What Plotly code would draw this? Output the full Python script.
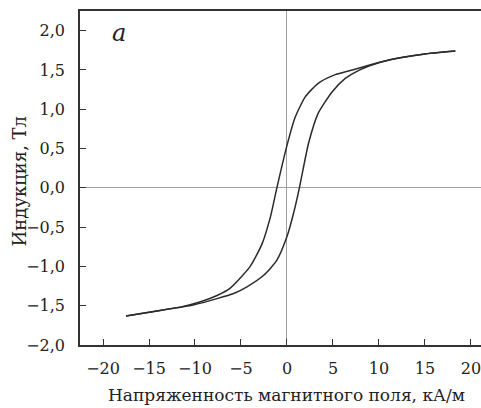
import plotly.graph_objects as go

# Ascending branch (from negative saturation to positive saturation)
h_up = [-17.5, -13.8, -10.2, -7.6, -5.8, -4.35, -2.5, -1.1, 0.0, 0.7, 1.35, 2.35, 3.4, 4.9, 6.3, 7.4, 8.9, 11.2, 14.8, 18.3]
b_up = [-1.63, -1.56, -1.49, -1.41, -1.345, -1.26, -1.11, -0.92, -0.62, -0.33, 0.0, 0.57, 0.95, 1.22, 1.39, 1.47, 1.55, 1.63, 1.70, 1.74]

# Descending branch (from positive saturation back to negative saturation)
h_down = [18.3, 14.8, 11.2, 8.9, 7.4, 5.25, 3.4, 2.0, 0.9, 0.0, -1.1, -1.8, -2.7, -4.0, -6.2, -7.6, -9.4, -11.5, -13.8, -17.5]
b_down = [1.74, 1.70, 1.63, 1.56, 1.51, 1.44, 1.33, 1.16, 0.90, 0.54, 0.0, -0.37, -0.71, -1.0, -1.28, -1.37, -1.45, -1.515, -1.56, -1.63]

x_ticks = [-20, -15, -10, -5, 0, 5, 10, 15, 20]
y_ticks = [-2.0, -1.5, -1.0, -0.5, 0.0, 0.5, 1.0, 1.5, 2.0]

x_title = "Напряженность магнитного поля, кА/м"
y_title = "Индукция, Тл"
panel_label = "a"

FONT = "DejaVu Serif"
TXT = "#222"
LINE = "#2b2b2b"

fig = go.Figure()
fig.add_trace(go.Scatter(x=h_up, y=b_up, mode="lines",
                         line=dict(color=LINE, width=1.5, shape="spline", smoothing=0.6),
                         showlegend=False, hoverinfo="skip"))
fig.add_trace(go.Scatter(x=h_down, y=b_down, mode="lines",
                         line=dict(color=LINE, width=1.5, shape="spline", smoothing=0.6),
                         showlegend=False, hoverinfo="skip"))

fig.update_layout(
    width=481, height=408,
    margin=dict(l=80, r=0, t=11, b=63),
    paper_bgcolor="white", plot_bgcolor="white",
    separators=", ",
    font=dict(family=FONT, size=16, color=TXT),
    xaxis=dict(range=[-22.5, 21.09], tickvals=x_ticks, ticks="inside", ticklen=6,
               tickcolor="#333", tickwidth=1.2, automargin=False,
               ticklabeloverflow="allow",
               showline=True, linecolor="#333", linewidth=1.5, mirror=True,
               showgrid=False, zeroline=True, zerolinecolor="#a0a0a0", zerolinewidth=1,
               tickfont=dict(family=FONT, size=16, color=TXT),
               ticklabelstandoff=8),
    yaxis=dict(range=[-2.0, 2.25], tickvals=y_ticks, tickformat=".1f", ticks="inside", ticklen=6,
               tickcolor="#333", tickwidth=1.2, automargin=False,
               ticklabeloverflow="allow",
               showline=True, linecolor="#333", linewidth=1.5, mirror=False,
               showgrid=False, zeroline=True, zerolinecolor="#a0a0a0", zerolinewidth=1,
               tickfont=dict(family=FONT, size=16, color=TXT),
               ticklabelstandoff=10),
    annotations=[
        dict(text=x_title, xref="paper", yref="paper", x=0.5155, y=-0.15,
             xanchor="center", yanchor="middle", showarrow=False,
             font=dict(family=FONT, size=17, color=TXT)),
        dict(text=y_title, xref="paper", yref="paper", x=-0.152, y=0.49,
             xanchor="center", yanchor="middle", showarrow=False, textangle=-90,
             font=dict(family=FONT, size=18, color=TXT)),
        dict(text=panel_label, xref="x", yref="y", x=-18.3, y=1.97,
             xanchor="center", yanchor="middle", showarrow=False,
             font=dict(family=FONT, size=24, color=TXT, style="italic")),
    ],
)

fig.write_html("out.html", config={"displayModeBar": False},
               post_script="document.body.style.margin='0px';document.body.style.padding='0px';")
